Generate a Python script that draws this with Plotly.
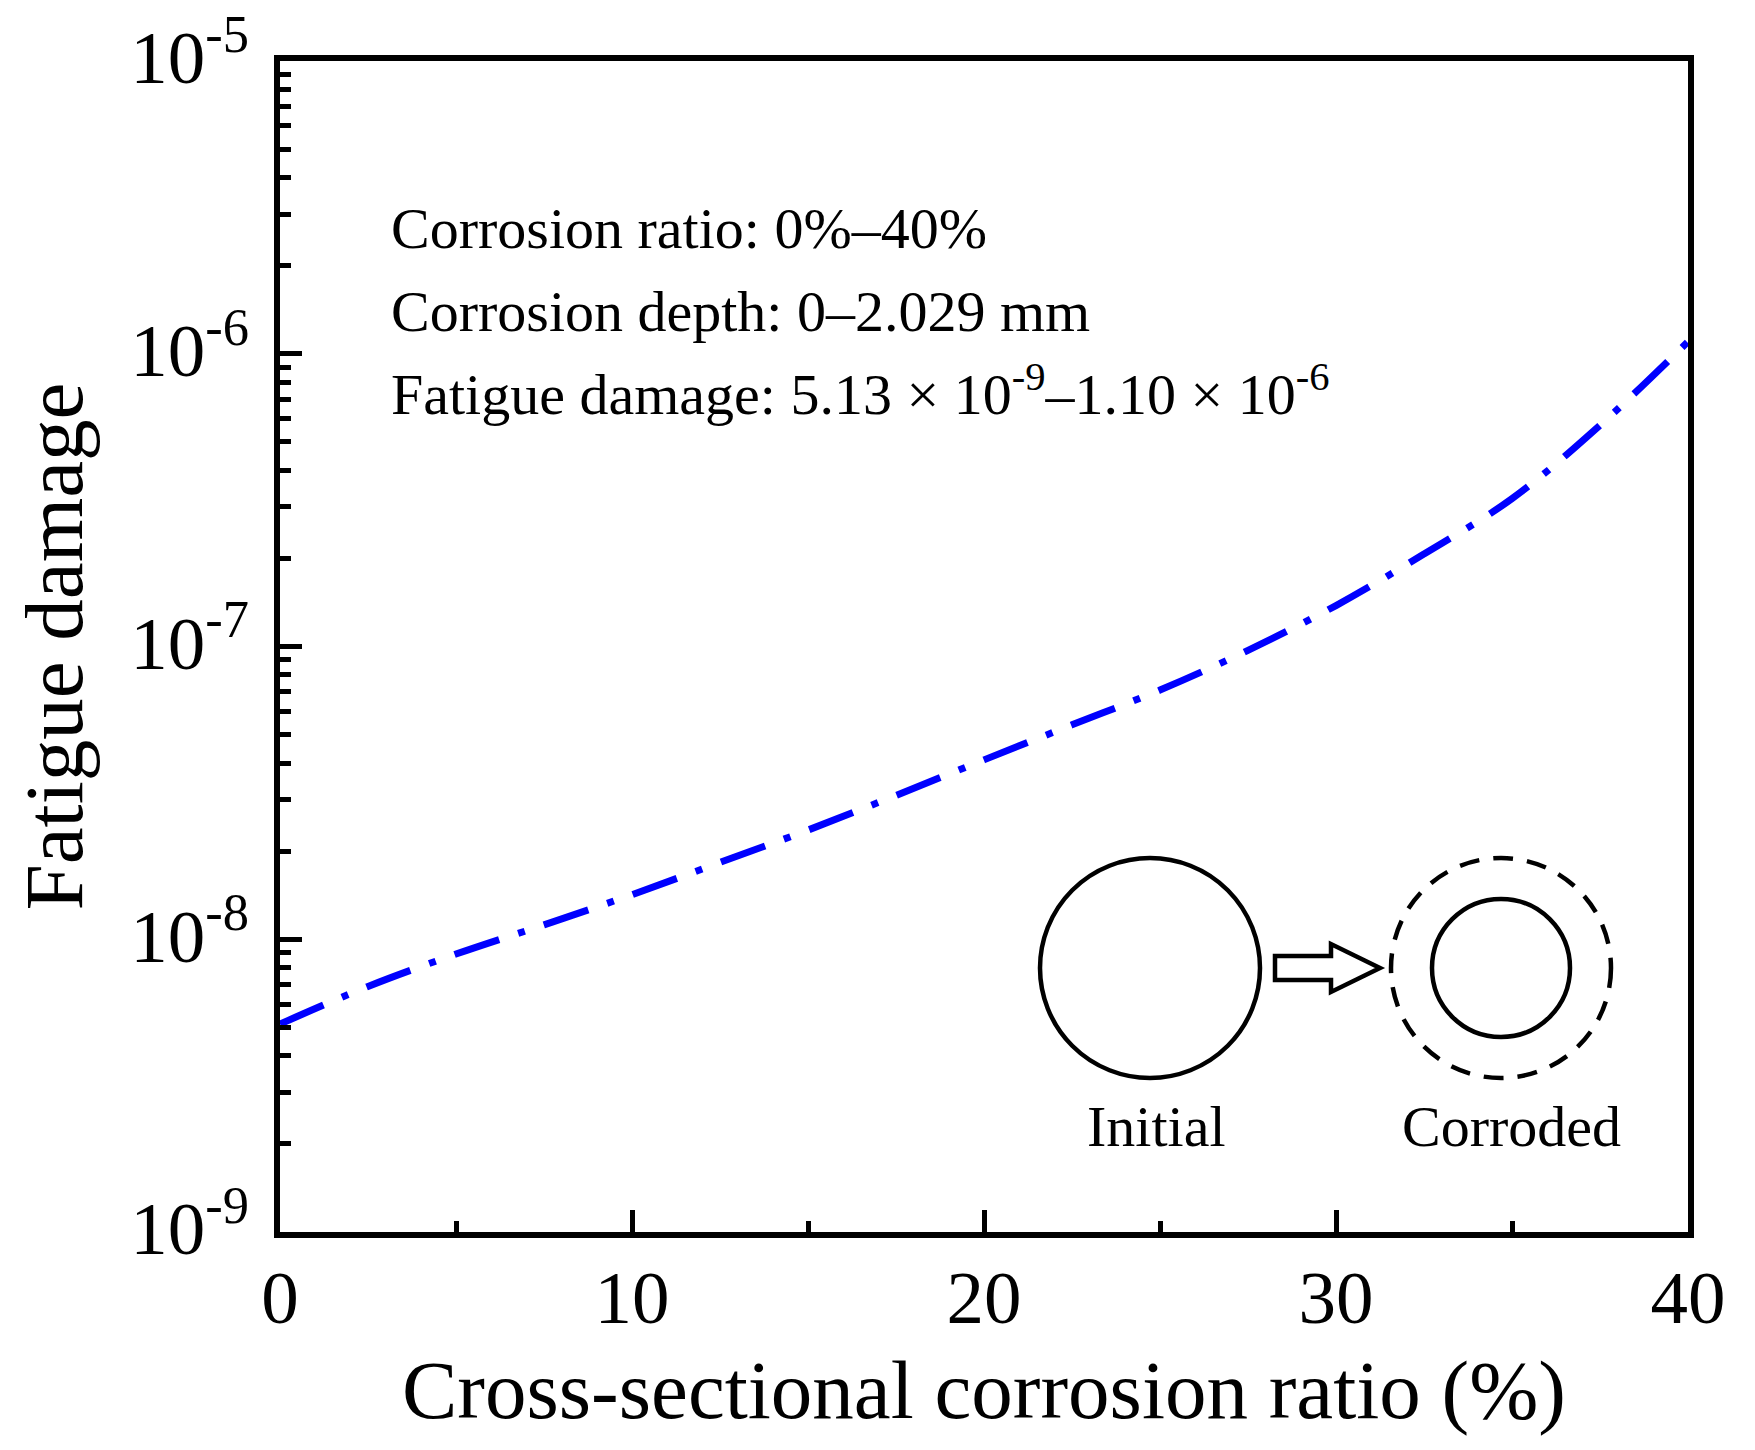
import plotly.graph_objects as go

# ------------------------------------------------------------------
# data
# ------------------------------------------------------------------
corrosion_ratio = [0, 2.5, 5, 7.5, 10, 12.5, 15, 17.5, 20, 22.5, 25,
                   27.5, 30, 32.5, 35, 37.5, 40]
fatigue_damage = [5.13e-9, 6.9e-9, 8.9e-9, 1.12e-8, 1.42e-8, 1.83e-8, 2.36e-8,
                  3.10e-8, 4.10e-8, 5.40e-8, 7.1e-8, 9.7e-8, 1.38e-7, 2.07e-7,
                  3.2e-7, 5.7e-7, 1.10e-6]

x_ticks = [0, 10, 20, 30, 40]
y_ticks = [1e-9, 1e-8, 1e-7, 1e-6, 1e-5]
y_ticktext = ["10<sup>-9</sup>", "10<sup>-8</sup>", "10<sup>-7</sup>",
              "10<sup>-6</sup>", "10<sup>-5</sup>"]
y_minor = [m * 10.0 ** e for e in range(-9, -5) for m in range(2, 10)]

info_lines = [
    "Corrosion ratio: 0%–40%",
    "Corrosion depth: 0–2.029 mm",
    "Fatigue damage: 5.13 × 10<sup>-9</sup>–1.10 × 10<sup>-6</sup>",
]
sketch_labels = ["Initial", "Corroded"]

FONT = "Liberation Serif, Times New Roman, serif"
W, H = 1755, 1450
OFF = 8  # default body margin of the page shifts the figure by this much
ML, MR, MT, MB = 272, 75, 53, 226
PW, PH = W - ML - MR, H - MT - MB


def px(xp):   # page pixel -> paper x
    return (xp - OFF - ML) / PW


def py(yp):   # page pixel -> paper y
    return (H - MB - (yp - OFF)) / PH


fig = go.Figure()

fig.add_trace(go.Scatter(
    x=corrosion_ratio, y=fatigue_damage, mode="lines",
    line=dict(color="#0000FF", width=7, dash="47px,20px,7px,20px", shape="spline"),
    showlegend=False, hoverinfo="x+y",
))

# info text (top-left)
for t, yc in zip(info_lines, [229, 311, 391]):
    fig.add_annotation(x=px(389), y=py(yc),
                       xref="paper", yref="paper", text=t, showarrow=False,
                       xanchor="left", yanchor="middle",
                       font=dict(family=FONT, size=58, color="black"))

# small sketch: initial circle -> corroded circle
cx1, cx2, cy = px(1150), px(1501), py(968)
circ = dict(type="circle", xref="paper", yref="paper",
            xsizemode="pixel", ysizemode="pixel", layer="above")
fig.add_shape(**circ, xanchor=cx1, yanchor=cy, x0=-110, x1=110, y0=-110, y1=110,
              line=dict(color="black", width=4.5))
fig.add_shape(**circ, xanchor=cx2, yanchor=cy, x0=-110, x1=110, y0=-110, y1=110,
              line=dict(color="black", width=4.5, dash="20px,14px"))
fig.add_shape(**circ, xanchor=cx2, yanchor=cy, x0=-69, x1=69, y0=-69, y1=69,
              line=dict(color="black", width=4.5))

# hollow block arrow
arrow_path = "M 0,-12 L 56,-12 L 56,-24 L 105,0 L 56,24 L 56,12 L 0,12 Z"
fig.add_shape(type="path", xref="paper", yref="paper", xsizemode="pixel",
              ysizemode="pixel", xanchor=px(1275), yanchor=cy, path=arrow_path,
              line=dict(color="black", width=4.5), fillcolor="white")

for lbl, xc in zip(sketch_labels, [1156, 1511]):
    fig.add_annotation(x=px(xc), y=py(1126), xref="paper", yref="paper",
                       text=lbl, showarrow=False, xanchor="center", yanchor="middle",
                       font=dict(family=FONT, size=58, color="black"))

axis_common = dict(
    showline=True, linecolor="black", linewidth=6, mirror=True,
    ticks="inside", ticklen=22, tickwidth=5, tickcolor="black",
    showgrid=False, zeroline=False, ticklabeloverflow="allow",
    tickfont=dict(family=FONT, size=75, color="black"),
)

fig.update_xaxes(
    **axis_common, range=[0, 40], tickmode="array", tickvals=x_ticks,
    ticklabelstandoff=-5,
    minor=dict(ticks="inside", ticklen=11, tickwidth=5, tickcolor="black", dtick=5),
    title=dict(text="Cross-sectional corrosion ratio (%)", standoff=24,
               font=dict(family=FONT, size=83, color="black")),
)
fig.update_yaxes(
    **axis_common, type="log", range=[-9, -5], tickmode="array",
    tickvals=y_ticks, ticktext=y_ticktext, ticklabelstandoff=10, ticklabelshift=-4,
    minor=dict(ticks="inside", ticklen=11, tickwidth=5, tickcolor="black",
               tickmode="array", tickvals=y_minor),
    title=dict(text="Fatigue damage", standoff=27,
               font=dict(family=FONT, size=83, color="black")),
)

fig.update_layout(
    width=W, height=H,
    margin=dict(l=ML, r=MR, t=MT, b=MB, autoexpand=False),
    plot_bgcolor="white", paper_bgcolor="white",
    font=dict(family=FONT, color="black"),
)

fig.write_html("out.html")
